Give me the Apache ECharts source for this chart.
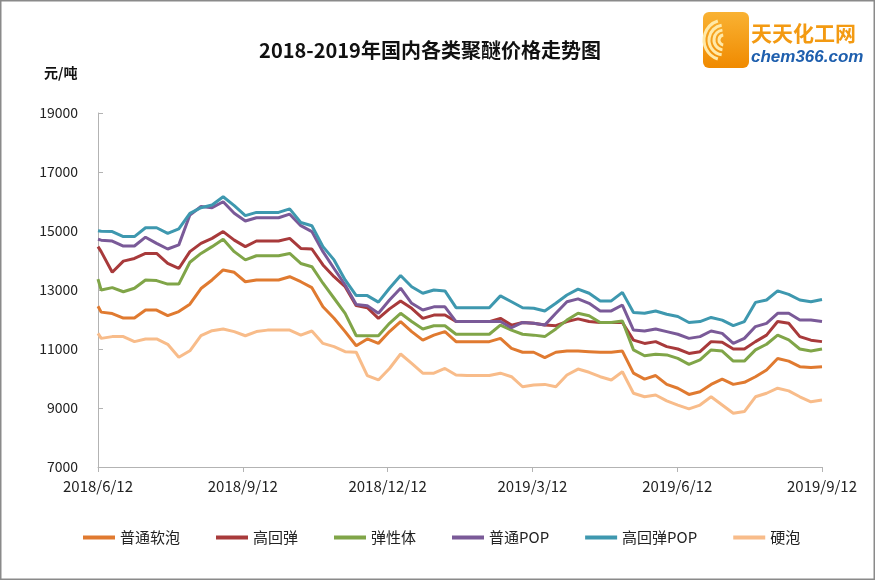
<!DOCTYPE html>
<html>
<head>
<meta charset="utf-8">
<script src="https://cdn.jsdelivr.net/npm/echarts@6/dist/echarts.min.js"></script>
<style>
html,body{margin:0;padding:0;background:#fff;}
#c{width:875px;height:580px;}
</style>
</head>
<body>
<div id="c"></div>
<script>
const dates = [
 '2018-06-12','2018-06-14','2018-06-21','2018-06-28','2018-07-05','2018-07-12','2018-07-19','2018-07-26','2018-08-02','2018-08-09',
 '2018-08-16','2018-08-23','2018-08-30','2018-09-06','2018-09-13','2018-09-20','2018-09-27','2018-10-04','2018-10-11','2018-10-18',
 '2018-10-25','2018-11-01','2018-11-08','2018-11-15','2018-11-22','2018-11-29','2018-12-06','2018-12-13','2018-12-20','2018-12-27',
 '2019-01-03','2019-01-10','2019-01-17','2019-01-24','2019-01-31','2019-02-07','2019-02-14','2019-02-21','2019-02-28','2019-03-07',
 '2019-03-14','2019-03-21','2019-03-28','2019-04-04','2019-04-11','2019-04-18','2019-04-25','2019-05-02','2019-05-09','2019-05-16',
 '2019-05-23','2019-05-30','2019-06-06','2019-06-13','2019-06-20','2019-06-27','2019-07-04','2019-07-11','2019-07-18','2019-07-25',
 '2019-08-01','2019-08-08','2019-08-15','2019-08-22','2019-08-29','2019-09-05','2019-09-12'
];
const tickLabels = ['2018/6/12','2018/9/12','2018/12/12','2019/3/12','2019/6/12','2019/9/12'];
const seriesNames = ['普通软泡','高回弹','弹性体','普通POP','高回弹POP','硬泡'];

const ptrp = [
 12450,12250,12200,12050,12050,12320,12320,12130,12270,12520,
 13050,13340,13680,13600,13280,13340,13340,13340,13450,13280,
 13080,12430,12040,11590,11110,11340,11190,11590,11930,11590,
 11300,11470,11590,11250,11250,11250,11250,11360,11020,10890,
 10890,10710,10890,10930,10930,10910,10890,10890,10930,10180,
 9980,10100,9800,9670,9460,9550,9800,9980,9800,9870,
 10060,10290,10680,10590,10400,10370,10400
];
const ghd = [
 14470,14300,13600,13980,14070,14240,14240,13900,13730,14300,
 14580,14750,14980,14690,14470,14660,14660,14660,14750,14410,
 14390,13850,13450,13110,12470,12400,12040,12360,12630,12380,
 12040,12150,12150,11930,11930,11930,11930,12040,11810,11900,
 11870,11810,11790,11930,12020,11930,11900,11900,11900,11300,
 11190,11250,11080,11000,10850,10910,11250,11230,11000,11000,
 11250,11470,11930,11870,11420,11300,11250
];
const txt = [
 13370,13000,13080,12940,13060,13340,13320,13200,13200,13940,
 14240,14470,14720,14300,14020,14160,14160,14160,14240,13900,
 13790,13230,12720,12210,11450,11450,11450,11870,12210,11930,
 11680,11790,11790,11500,11500,11500,11500,11810,11640,11500,
 11470,11420,11680,11980,12210,12130,11900,11900,11950,10970,
 10770,10820,10800,10680,10480,10630,10970,10930,10590,10590,
 10970,11160,11470,11310,11000,10930,11000
];
const ptpop = [
 14720,14690,14660,14490,14490,14790,14580,14390,14530,15540,
 15830,15790,15990,15600,15340,15450,15450,15450,15570,15180,
 14980,14300,13730,13170,12510,12470,12210,12660,13060,12550,
 12320,12430,12430,11930,11930,11930,11930,11930,11720,11900,
 11870,11810,12210,12600,12700,12550,12290,12290,12490,11640,
 11610,11680,11590,11500,11360,11420,11610,11530,11190,11360,
 11760,11870,12210,12210,11980,11980,11930
];
const ghdpop = [
 15010,14990,14980,14810,14810,15110,15110,14920,15070,15600,
 15790,15880,16160,15860,15520,15630,15630,15630,15750,15290,
 15180,14470,14020,13340,12810,12810,12590,13060,13490,13110,
 12890,13000,12970,12400,12400,12400,12400,12800,12600,12400,
 12380,12290,12550,12830,13030,12890,12630,12630,12920,12240,
 12210,12290,12180,12100,11900,11930,12070,11980,11790,11930,
 12580,12660,12970,12850,12660,12600,12680
];
const yp = [
 11530,11360,11420,11420,11250,11340,11340,11160,10720,10940,
 11450,11620,11680,11590,11450,11590,11640,11640,11640,11470,
 11610,11190,11080,10910,10890,10100,9950,10340,10830,10510,
 10180,10180,10340,10120,10100,10100,10100,10180,10060,9720,
 9780,9800,9720,10120,10320,10210,10060,9950,10230,9500,
 9380,9440,9240,9100,8970,9100,9380,9100,8820,8880,
 9380,9500,9670,9580,9380,9210,9270
];

const colors = ['#E07A30','#A83A3B','#80A548','#7A5A98','#3E98AF','#F8BC8A'];
const seriesValues = [ptrp, ghd, txt, ptpop, ghdpop, yp];

const DAY = 86400000;
function dayOf(s){ const p = s.split('-').map(Number); return Date.UTC(p[0],p[1]-1,p[2]); }
const t0 = dayOf(dates[0]);
const tEnd = dayOf(dates[dates.length-1]);
const span = (tEnd - t0)/DAY;
const xs = dates.map(d => (dayOf(d)-t0)/DAY);
const step = span/(tickLabels.length-1);

const FONT = "'Noto Sans CJK SC','Noto Sans',sans-serif";
const CJK = "'Noto Sans CJK SC','Noto Sans',sans-serif";

const chart = echarts.init(document.getElementById('c'), null, {renderer:'canvas'});
chart.setOption({
  animation:false,
  backgroundColor:'#fff',
  color: colors,
  grid:{left:98, right:53, top:113, bottom:113, containLabel:false},
  xAxis:{
    type:'value', min:0, max:span, interval:step,
    axisLine:{show:true, lineStyle:{color:'#b3b3b3', width:1}},
    axisTick:{show:true, length:5, lineStyle:{color:'#b3b3b3'}},
    splitLine:{show:false},
    axisLabel:{
      margin:12, color:'#222', fontSize:15, fontFamily:FONT,
      formatter: v => tickLabels[Math.round(v/step)] || ''
    }
  },
  yAxis:{
    type:'value', min:7000, max:19000, interval:2000,
    axisLine:{show:true, lineStyle:{color:'#b3b3b3', width:1}},
    axisTick:{show:true, inside:true, length:5, lineStyle:{color:'#b3b3b3'}},
    splitLine:{show:false},
    axisLabel:{margin:20, color:'#222', fontSize:14, fontFamily:FONT, formatter: v => String(v)}
  },
  legend:{
    left:78, top:525, icon:'rect', itemWidth:32, itemHeight:4, itemGap:36,
    textStyle:{fontSize:15, color:'#222', fontFamily:CJK},
    data: seriesNames
  },
  series: seriesNames.map((n,i)=>({
    name:n, type:'line', symbol:'none', smooth:false,
    lineStyle:{width:3, color:colors[i]},
    itemStyle:{color:colors[i]},
    data: seriesValues[i].map((v,j)=>[xs[j], v])
  })),
  graphic:[
    {type:'rect', shape:{x:0.75,y:0.75,width:873.5,height:578.5}, style:{fill:'none', stroke:'#8a8a8a', lineWidth:1.5}, silent:true},
    {type:'text', x:430, y:50, style:{text:'2018-2019年国内各类聚醚价格走势图', fontSize:20, fontWeight:'bold', fontFamily:CJK, fill:'#111', textAlign:'center', textVerticalAlign:'middle'}},
    {type:'text', x:44, y:73, style:{text:'元/吨', fontSize:14, fontWeight:'bold', fontFamily:CJK, fill:'#111', textAlign:'left', textVerticalAlign:'middle'}},
    {type:'rect', shape:{x:703, y:12, width:46, height:56, r:6},
      style:{fill:new echarts.graphic.LinearGradient(0,0,0,1,[{offset:0,color:'#F9B233'},{offset:1,color:'#F08A00'}])}},
    {type:'arc', shape:{cx:724, cy:40, r:5, startAngle:Math.PI*0.55, endAngle:Math.PI*1.45}, style:{stroke:'#FFE9A8', lineWidth:3, fill:'none'}},
    {type:'arc', shape:{cx:724, cy:40, r:10, startAngle:Math.PI*0.55, endAngle:Math.PI*1.45}, style:{stroke:'#FFE9A8', lineWidth:3, fill:'none'}},
    {type:'arc', shape:{cx:724, cy:40, r:15, startAngle:Math.PI*0.55, endAngle:Math.PI*1.45}, style:{stroke:'#FFE9A8', lineWidth:3, fill:'none'}},
    {type:'arc', shape:{cx:724, cy:40, r:20, startAngle:Math.PI*0.6, endAngle:Math.PI*1.4}, style:{stroke:'#FFE9A8', lineWidth:3, fill:'none'}},
    {type:'text', x:751, y:33, style:{text:'天天化工网', fontSize:21, fontWeight:'bold', fontFamily:CJK, fill:'#F39A12', textAlign:'left', textVerticalAlign:'middle'}},
    {type:'text', x:751, y:57, style:{text:'chem366.com', fontSize:17, fontWeight:'bold', fontStyle:'italic', fontFamily:"'Liberation Sans',sans-serif", fill:'#1E5FAE', textAlign:'left', textVerticalAlign:'middle'}}
  ]
});
</script>
</body>
</html>
